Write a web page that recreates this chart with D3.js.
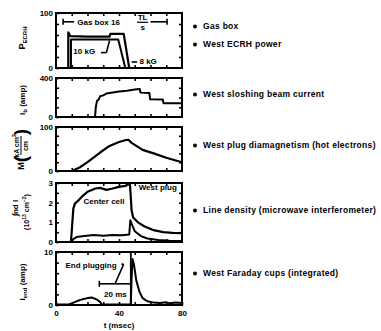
<!DOCTYPE html>
<html><head><meta charset="utf-8">
<script src="https://cdn.jsdelivr.net/npm/d3@7"></script>
<style>
html,body{margin:0;padding:0;background:#fff;}
svg{display:block;}
text{font-family:"Liberation Sans",Arial,sans-serif;font-weight:bold;fill:#000;}
</style></head><body>
<script>
// ---------- data (t in msec) ----------
const xTickLabels = [0, 40, 80];
const gasBox = [4.5, 70.5];            // gas box on/off
const gasBoxLevel = 84;
const ecrh10kG = [[7.8,0],[7.8,65],[9,58],[20,57],[34,57],[34.5,62],[43,62],[46.5,0]];
const ecrh8kG  = [[9.5,0],[9.5,52],[25,52],[39.5,52],[43,12],[44,0]];
const beamCurrent = [[24.8,0],[25.2,90],[26,165],[27,178],[28,212],[30,222],[32,240],[36,252],[40,262],[45,270],[50,282],[53.2,288],[53.6,250],[59.3,246],[59.8,182],[67.8,180],[68.3,140],[80,140]];
const diamag = [[0,0],[10,0],[15,8],[20,20],[28,42],[34,57],[40,66],[44,70],[46,71],[48,64],[55,48],[62,40],[70,30],[80,20]];
const westPlug = [[9.5,0],[10.3,0.9],[11,1.7],[12,1.95],[14,2.1],[17,2.35],[20,2.55],[25,2.72],[28,2.75],[32,2.65],[36,2.72],[40,2.8],[44,2.85],[46,2.95],[47,2.9],[48,1.6],[49,1.25],[52,1.0],[56,0.8],[62,0.6],[68,0.5],[74,0.46],[80,0.45]];
const centerCell = [[9.5,0],[11,0.15],[13,0.25],[18,0.3],[24,0.35],[30,0.32],[36,0.36],[42,0.34],[46.5,0.38],[47.2,1.1],[48.2,0.9],[50,0.55],[54,0.3],[58,0.18],[65,0.1],[72,0.06],[80,0.05]];
const faraday = [[0,0.1],[8,0.1],[10,0.3],[13,0.7],[17,1.1],[20,1.3],[23,1.4],[26,1.0],[28,0.6],[29,0.1],[47.5,0.1],[48,5],[48.6,8.7],[49.5,7.6],[51,4.6],[53,2.5],[55,1.3],[58,0.7],[62,0.45],[66,0.4],[70,0.5],[72,0.35],[76,0.45],[80,0.4]];
const plugEnd = 47.5;
const scaleBar = [27.5, 47.5];
const sideLabels = ["Gas box","West ECRH power","West sloshing beam current","West plug diamagnetism (hot electrons)","Line density (microwave interferometer)","West Faraday cups (integrated)"];

// ---------- layout ----------
const W = 381, H = 331;
const svg = d3.select("body").append("svg").attr("width", W).attr("height", H);
const x = d3.scaleLinear().domain([0, 80]).range([56, 182]);
const panels = [
  {top:13,  bottom:68,  max:100, minor:[20,40,60,80],   labels:[0,100]},
  {top:78,  bottom:117, max:400, minor:[100,200,300],   labels:[0,400]},
  {top:127, bottom:171, max:100, minor:[20,40,60,80],   labels:[0,100]},
  {top:183, bottom:242, max:3,   minor:[0.5,1,1.5,2,2.5], labels:[0,1,2,3]},
  {top:252, bottom:305, max:10,  minor:[2,4,6,8],       labels:[0,10]}
];
panels.forEach(p => { p.y = d3.scaleLinear().domain([0, p.max]).range([p.bottom, p.top]); });

const line = (y) => d3.line().x(d => x(d[0])).y(d => y(d[1]));
const xt = d3.range(10, 80, 10);

panels.forEach((p, i) => {
  const g = svg.append("g");
  const ticks = [0, ...p.minor, p.max];
  const la = d3.axisLeft(p.y).tickValues(ticks).tickSize(-3).tickPadding(3)
      .tickFormat(d => p.labels.includes(d) ? d3.format("d")(d) : "");
  const ra = d3.axisRight(p.y).tickValues(p.minor).tickSize(-3).tickFormat("");
  const ta = d3.axisTop(x).tickValues(xt).tickSize(-3).tickFormat("");
  const ba = d3.axisBottom(x).tickValues(i === 4 ? [0, ...xt, 80] : xt).tickSize(-3).tickPadding(5)
      .tickFormat(d => (i === 4 && xTickLabels.includes(d)) ? d : "");
  [[la, `translate(${x(0)},0)`], [ra, `translate(${x(80)},0)`], [ta, `translate(0,${p.top})`], [ba, `translate(0,${p.bottom})`]]
    .forEach(([ax, tr]) => {
      const a = g.append("g").attr("transform", tr).call(ax);
      a.select(".domain").remove();
      a.selectAll("line").attr("stroke", "#000").attr("stroke-width", 1.6);
      a.selectAll("text").style("font-size", "8px").style("font-family", "Liberation Sans, Arial").style("font-weight", "bold");
    });
  g.append("rect").attr("x", x(0)).attr("y", p.top).attr("width", x(80) - x(0)).attr("height", p.bottom - p.top)
    .attr("fill", "none").attr("stroke", "#000").attr("stroke-width", 2);
});

function curve(p, data, w) {
  svg.append("path").attr("d", line(p.y)(data)).attr("fill", "none").attr("stroke", "#000")
    .attr("stroke-width", w || 2).attr("stroke-linejoin", "round");
}
function txt(px, py, s, size, anchor) {
  return svg.append("text").attr("x", px).attr("y", py).attr("font-size", size || 8)
    .attr("text-anchor", anchor || "start").text(s);
}
function seg(x1, y1, x2, y2, w) {
  svg.append("line").attr("x1", x1).attr("y1", y1).attr("x2", x2).attr("y2", y2)
    .attr("stroke", "#000").attr("stroke-width", w || 1.6);
}

// panel 1
const p1 = panels[0], p2 = panels[1], p3 = panels[2], p4 = panels[3], p5 = panels[4];
curve(p1, ecrh10kG, 2.2);
curve(p1, ecrh8kG, 2);
const gy = p1.y(gasBoxLevel);
seg(x(gasBox[0]), gy - 3, x(gasBox[0]), gy + 3);
seg(x(gasBox[0]), gy, x(11.5), gy);
txt(x(13.5), gy + 3, "Gas box 16", 8);
txt(x(55), gy - 2, "TL", 8, "middle");
seg(x(51.5), gy + 0.5, x(58.5), gy + 0.5, 1.2);
txt(x(55), gy + 8, "s", 8, "middle");
seg(x(60), gy, x(gasBox[1]), gy);
seg(x(gasBox[1]), gy - 3, x(gasBox[1]), gy + 3);
txt(x(11), p1.y(25), "10 kG", 8);
seg(x(28.5), p1.y(28), x(32), p1.y(28));
seg(x(32), p1.y(28), x(34), p1.y(50));
seg(x(48), p1.y(11), x(51.5), p1.y(11));
txt(x(53), p1.y(8), "8 kG", 8);

// panel 2
curve(p2, beamCurrent, 2);
// panel 3
curve(p3, diamag, 2.2);
// panel 4
curve(p4, westPlug, 2.2);
curve(p4, centerCell, 2);
txt(x(17.5), p4.y(1.95), "Center cell", 8);
txt(x(52.5), p4.y(2.65), "West plug", 8);
// panel 5
curve(p5, faraday, 2);
seg(x(plugEnd), p5.top, x(plugEnd), p5.bottom, 1.8);
const sb = p5.y(4);
seg(x(scaleBar[0]), sb - 3, x(scaleBar[0]), sb + 3);
seg(x(scaleBar[0]), sb, x(scaleBar[1]), sb);
txt(x(30.5), p5.y(1.5), "20 ms", 8);
txt(x(6), p5.y(7), "End plugging", 8);
seg(x(41.5), p5.y(7.7), x(43), p5.y(7.7));
seg(x(43), p5.y(7.7), x(37.5), p5.y(4));

// x axis title
txt(x(40), 328, "t (msec)", 8, "middle");

// y axis titles (rotated)
function rot(cx, cy) { return svg.append("g").attr("transform", `translate(${cx},${cy}) rotate(-90)`); }
let g1 = rot(25, 38);
g1.append("text").attr("text-anchor", "middle").attr("font-size", 9)
  .html('P<tspan font-size="6" dy="2">ECRH</tspan>');
let g2 = rot(25, 100);
g2.append("text").attr("text-anchor", "middle").attr("font-size", 8)
  .html('I<tspan font-size="6" dy="2">b</tspan><tspan dy="-2"> (amp)</tspan>');
let g3 = rot(21, 148);
g3.append("text").attr("x", -18).attr("y", 3).attr("font-size", 9).attr("text-anchor", "middle").text("M");
g3.append("text").attr("x", -11).attr("y", 6).attr("font-size", 19).attr("font-weight", "normal").attr("text-anchor", "middle").text("(");
g3.append("text").attr("x", 2).attr("y", -2).attr("font-size", 7).attr("text-anchor", "middle")
  .html('kA cm<tspan font-size="5" dy="-3">2</tspan>');
g3.append("line").attr("x1", -7).attr("x2", 12).attr("y1", 0).attr("y2", 0).attr("stroke", "#000").attr("stroke-width", 1);
g3.append("text").attr("x", 2).attr("y", 7).attr("font-size", 7).attr("text-anchor", "middle").text("cm");
g3.append("text").attr("x", 16).attr("y", 6).attr("font-size", 19).attr("font-weight", "normal").attr("text-anchor", "middle").text(")");
let g4 = rot(21, 212);
g4.append("text").attr("x", 4).attr("y", -3).attr("font-size", 8).attr("text-anchor", "middle").text("∫nd l");
g4.append("text").attr("x", 0).attr("y", 8).attr("font-size", 7).attr("text-anchor", "middle")
  .html('(10<tspan font-size="5" dy="-3">13</tspan><tspan dy="3"> cm</tspan><tspan font-size="5" dy="-3">−2</tspan><tspan dy="3">)</tspan>');
let g5 = rot(25, 282);
g5.append("text").attr("text-anchor", "middle").attr("font-size", 8)
  .html('I<tspan font-size="6" dy="2">end</tspan><tspan dy="-2"> (amp)</tspan>');

// side labels
const sideY = [29, 47, 97, 148, 213, 276];
sideLabels.forEach((s, i) => {
  svg.append("circle").attr("cx", 195).attr("cy", sideY[i] - 2.5).attr("r", 2).attr("fill", "#000");
  txt(203, sideY[i], s, 8.5).attr("letter-spacing", 0.3);
});
</script>
</body></html>
